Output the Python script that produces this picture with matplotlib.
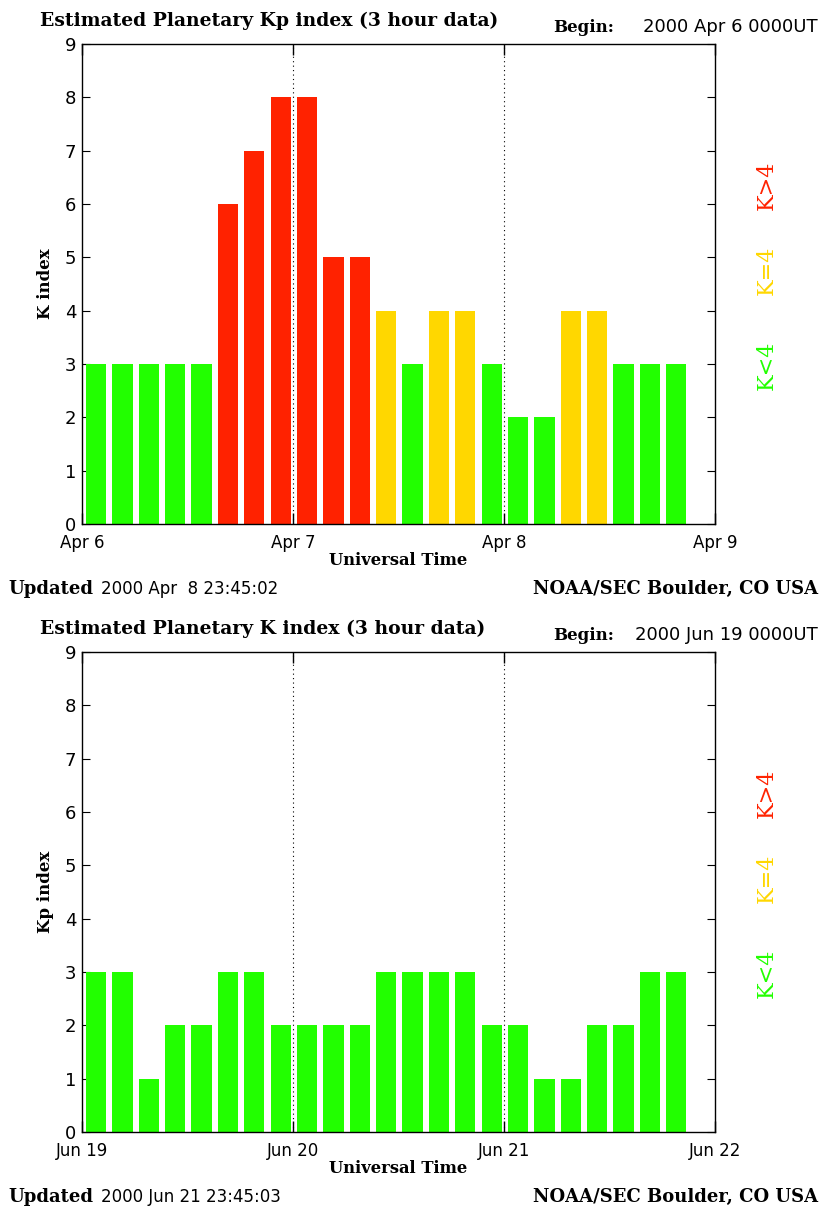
import numpy as np
import matplotlib.pyplot as plt

# Данные: Kp индекс каждые 3 часа
kp_apr = [3, 3, 3, 3, 3, 6, 7, 8,
          8, 5, 5, 4, 3, 4, 4, 3,
          2, 2, 4, 4, 3, 3, 3]
kp_jun = [3, 3, 1, 2, 2, 3, 3, 2,
          2, 2, 2, 3, 3, 3, 3, 2,
          2, 1, 1, 2, 2, 3, 3]
days_apr = ['Apr 6', 'Apr 7', 'Apr 8', 'Apr 9']
days_jun = ['Jun 19', 'Jun 20', 'Jun 21', 'Jun 22']
titles = ['Estimated Planetary Kp index (3 hour data)',
          'Estimated Planetary K index (3 hour data)']
ylabels = ['K index', 'Kp index']
begins = ['2000 Apr 6 0000UT', '2000 Jun 19 0000UT']
updated = ['2000 Apr  8 23:45:02', '2000 Jun 21 23:45:03']

GREEN = '#22ff00'
YELLOW = '#ffd700'
RED = '#ff2200'

W, H = 824, 1210
SERIF = 'DejaVu Serif'
SANS = 'DejaVu Sans'


def color_for(k):
    if k < 4:
        return GREEN
    if k == 4:
        return YELLOW
    return RED


def fx(px):
    return px / W


def fy(py):
    return 1 - py / H


fig = plt.figure(figsize=(W / 100, H / 100), dpi=100)

panels = [(kp_apr, days_apr, 44), (kp_jun, days_jun, 652)]
for n, (kp, days, top) in enumerate(panels):
    ax = fig.add_axes([fx(82), fy(top + 480), fx(715) - fx(82), 480 / H])
    hours = 1.6 + 3 * np.arange(len(kp))
    ax.bar(hours, kp, width=2.3, color=[color_for(k) for k in kp], zorder=2)
    ax.set_xlim(0, 72)
    ax.set_ylim(0, 9)
    for d in (24, 48):
        ax.axvline(d, color='black', linestyle=(0, (1, 3)), linewidth=0.8, zorder=3)
    ax.set_xticks([0, 24, 48, 72])
    ax.set_xticklabels(days, fontfamily=SANS, fontsize=12)
    ax.set_xticks(hours, minor=True)
    ax.tick_params(axis='x', which='major', direction='in', length=8, width=1,
                   top=True, pad=7)
    ax.tick_params(axis='x', which='minor', direction='in', length=9,
                   color='white', width=0.8)
    ax.set_yticks(range(10))
    ax.set_yticklabels([str(i) for i in range(10)], fontfamily=SANS, fontsize=13)
    ax.tick_params(axis='y', direction='in', length=6, right=True, pad=4)
    for s in ax.spines.values():
        s.set_linewidth(1.0)
        s.set_zorder(4)
    ax.set_xlabel('Universal Time', fontfamily=SERIF, fontweight='bold',
                  fontsize=11.8, labelpad=0)
    ax.set_ylabel(ylabels[n], fontfamily=SERIF, fontweight='bold',
                  fontsize=12, labelpad=8)

    # заголовки и подписи
    fig.text(fx(40), fy(top - 23), titles[n], fontfamily=SERIF,
             fontweight='bold', fontsize=13.5, va='center')
    fig.text(fx(553), fy(top - 17), 'Begin:', fontfamily=SERIF,
             fontweight='bold', fontsize=12, va='center')
    fig.text(fx(818), fy(top - 17), begins[n], fontfamily=SANS,
             fontsize=13, va='center', ha='right')
    fig.text(fx(8), fy(top + 545), 'Updated', fontfamily=SERIF,
             fontweight='bold', fontsize=13, va='center')
    fig.text(fx(101), fy(top + 545), updated[n], fontfamily=SANS,
             fontsize=12, va='center')
    fig.text(fx(818), fy(top + 545), 'NOAA/SEC Boulder, CO USA', fontfamily=SERIF,
             fontweight='bold', fontsize=13, va='center', ha='right')

    # легенда справа
    for label, col, dy in [('K>4', RED, 141), ('K=4', YELLOW, 226), ('K<4', GREEN, 321)]:
        fig.text(fx(767), fy(top + dy), label, color=col, fontfamily=SERIF,
                 fontsize=16, rotation=90, ha='center', va='center')

plt.savefig('out.png', dpi=100)
